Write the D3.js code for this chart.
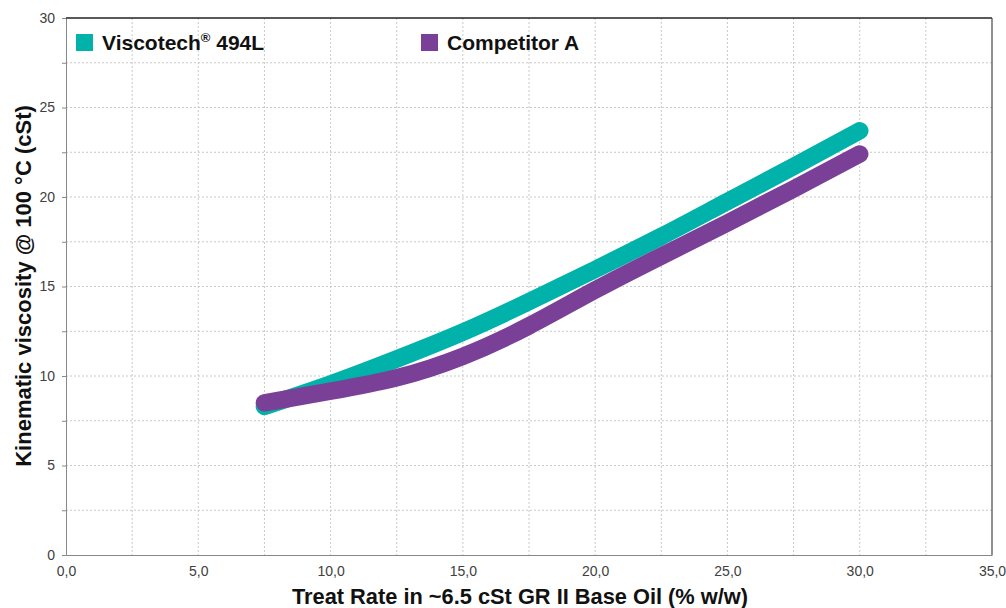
<!DOCTYPE html>
<html><head><meta charset="utf-8">
<script src="https://cdn.jsdelivr.net/npm/d3@7"></script>
<style>body{margin:0;background:#fff;font-family:"Liberation Sans",Arial,sans-serif}</style>
</head><body>
<svg id="c" width="1006" height="608"></svg>
<script>
const treatRate = [7.5, 10, 12.5, 15, 17.5, 20, 22.5, 25, 27.5, 30];
const viscotech = [8.3, 9.55, 10.95, 12.45, 14.15, 15.95, 17.8, 19.75, 21.7, 23.7];
const competitor = [8.5, 9.15, 9.9, 11.1, 12.8, 14.8, 16.7, 18.55, 20.45, 22.4];
const seriesNames = ["Viscotech", "Competitor A"];
const xTicks = [0, 5, 10, 15, 20, 25, 30, 35];
const yTicks = [0, 5, 10, 15, 20, 25, 30];
const xGrid = d3.range(0, 35.01, 2.5);
const yGrid = d3.range(0, 30.01, 2.5);

const svg = d3.select("#c");
const L = 66, R = 992, T = 18, B = 555;
const x = d3.scaleLinear().domain([0, 35]).range([L, R]);
const y = d3.scaleLinear().domain([0, 30]).range([B, T]);
const colors = ["#00b2a9", "#7a3f97"];
const FF = "Liberation Sans, Arial, sans-serif";

// grid
const g = svg.append("g");
g.selectAll(".vx").data(xGrid.filter(v => v > 0 && v < 35)).join("line")
  .attr("x1", d => x(d)).attr("x2", d => x(d)).attr("y1", T).attr("y2", B)
  .attr("stroke", "#c8c8c8").attr("stroke-width", 1).attr("stroke-dasharray", "2,2");
g.selectAll(".hy").data(yGrid.filter(v => v > 0 && v < 30)).join("line")
  .attr("x1", L).attr("x2", R).attr("y1", d => y(d)).attr("y2", d => y(d))
  .attr("stroke", "#c8c8c8").attr("stroke-width", 1).attr("stroke-dasharray", "2,2");

// axes
const yAxis = d3.axisLeft(y).tickValues(yGrid).tickSize(4).tickFormat(d => yTicks.includes(d) ? d3.format("d")(d) : "");
const ya = svg.append("g").attr("transform", `translate(${L},0)`).call(yAxis);
ya.select(".domain").attr("stroke", "#888");
ya.selectAll(".tick line").attr("stroke", "#888");
ya.selectAll("text").attr("font-size", 14).attr("fill", "#404040").attr("x", -11).attr("font-family", FF);

const xAxis = d3.axisBottom(x).tickValues(xTicks).tickSize(0).tickFormat(d => d3.format(".1f")(d).replace(".", ","));
const xa = svg.append("g").attr("transform", `translate(0,${B})`).call(xAxis);
xa.select(".domain").attr("stroke", "#888");
xa.selectAll("text").attr("font-size", 14).attr("fill", "#404040").attr("dy", "1.3em").attr("font-family", FF);

// top and right borders
svg.append("line").attr("x1", L).attr("x2", R).attr("y1", T).attr("y2", T).attr("stroke", "#222").attr("stroke-width", 1.3);
svg.append("line").attr("x1", R).attr("x2", R).attr("y1", T).attr("y2", B).attr("stroke", "#555").attr("stroke-width", 1.3);

// lines
const line = d3.line().x(d => x(d[0])).y(d => y(d[1])).curve(d3.curveNatural);
const data = [viscotech, competitor];
data.forEach((s, i) => {
  svg.append("path").datum(treatRate.map((t, j) => [t, s[j]]))
    .attr("d", line).attr("fill", "none").attr("stroke", colors[i])
    .attr("stroke-width", 17.5).attr("stroke-linecap", "round").attr("stroke-linejoin", "round");
});

// legend
const leg = [{x: 76, name: seriesNames[0], c: colors[0], sup: true}, {x: 421, name: seriesNames[1], c: colors[1], sup: false}];
leg.forEach(l => {
  svg.append("rect").attr("x", l.x).attr("y", 34).attr("width", 17).attr("height", 17).attr("fill", l.c);
  const t = svg.append("text").attr("x", l.x + 26).attr("y", 50).attr("font-size", 21)
    .attr("font-weight", "bold").attr("fill", "#111").attr("font-family", FF);
  t.append("tspan").text(l.name);
  if (l.sup) {
    t.append("tspan").text("®").attr("font-size", 13).attr("dy", -8);
    t.append("tspan").text(" 494L").attr("dy", 8);
  }
});

// axis titles
svg.append("text").attr("x", 520).attr("y", 604).attr("text-anchor", "middle")
  .attr("font-size", 21.8).attr("font-weight", "bold").attr("fill", "#111").attr("font-family", FF)
  .text("Treat Rate in ~6.5 cSt GR II Base Oil (% w/w)");
svg.append("text").attr("transform", "translate(31,286) rotate(-90)").attr("text-anchor", "middle")
  .attr("font-size", 22).attr("font-weight", "bold").attr("fill", "#111").attr("font-family", FF)
  .text("Kinematic viscosity @ 100 °C (cSt)");
</script>
</body></html>
